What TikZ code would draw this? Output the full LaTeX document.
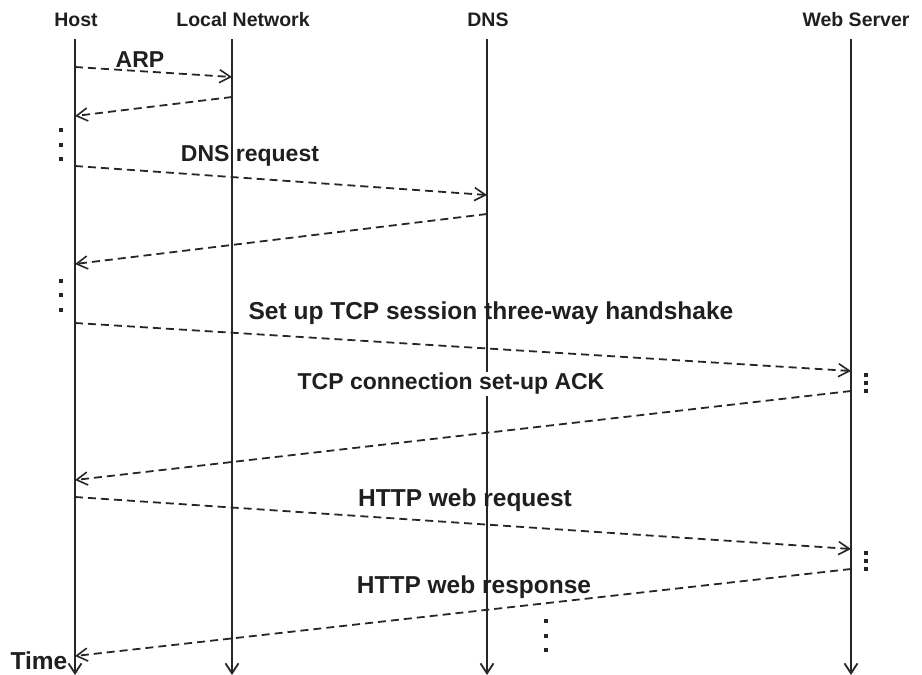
\documentclass[tikz,border=0pt]{standalone}
\usepackage{fontspec}
\setmainfont{Liberation Sans}
\usetikzlibrary{arrows.meta}
\begin{document}
\begin{tikzpicture}[x=1pt,y=-1pt,
  lifeline/.style={line width=2.2pt,draw=black!85,-{Straight Barb[length=10pt,width=13pt,line width=1.8pt]}},
  msg/.style={line width=1.8pt,draw=black!85,dash pattern=on 8pt off 5pt,-{Straight Barb[length=11pt,width=13pt,line width=1.6pt]}},
  head/.style={font=\bfseries\fontsize{19.5}{22}\selectfont,text=black!88},
  lbl/.style={font=\bfseries\fontsize{23}{26}\selectfont,text=black!88,inner sep=0pt},
  wide/.style={font=\bfseries\fontsize{24.5}{27}\selectfont},
  dotmark/.style={fill=black!85,minimum size=4.5pt,inner sep=0pt,shape=rectangle}]
\useasboundingbox (0,0) rectangle (922,675);

% participants
\node[head] (host) at (76,20) {Host};
\node[head] (lan) at (243,20) {Local Network};
\node[head] (dns) at (488,20) {DNS};
\node[head] (web) at (856,20) {Web Server};

% lifeline ends
\coordinate (h0) at (75,39);   \coordinate (h1) at (75,675);
\coordinate (l0) at (232,39);  \coordinate (l1) at (232,675);
\coordinate (d0) at (487,39);  \coordinate (d1) at (487,675);
\coordinate (w0) at (851,39);  \coordinate (w1) at (851,675);
\draw[lifeline] (h0) -- (h1);
\draw[lifeline] (l0) -- (l1);
\draw[lifeline] (d0) -- (d1);
\draw[lifeline] (w0) -- (w1);

% message end points
\coordinate (a1) at (75,67);   \coordinate (a2) at (232,77);
\coordinate (b1) at (232,97);  \coordinate (b2) at (75,116);
\coordinate (c1) at (75,166);  \coordinate (c2) at (487,195);
\coordinate (e1) at (487,214); \coordinate (e2) at (75,264);
\coordinate (f1) at (75,323);  \coordinate (f2) at (851,371);
\coordinate (g1) at (851,391); \coordinate (g2) at (75,480);
\coordinate (k1) at (75,497);  \coordinate (k2) at (851,549);
\coordinate (m1) at (851,569); \coordinate (m2) at (75,656);

\draw[msg] (a1) -- (a2);
\draw[msg] (b1) -- (b2);
\draw[msg] (c1) -- (c2);
\draw[msg] (e1) -- (e2);
\draw[msg] (f1) -- (f2);
\draw[msg] (g1) -- (g2);
\draw[msg] (k1) -- (k2);
\draw[msg] (m1) -- (m2);

% labels
\node[lbl] (larp) at (140,60) {ARP};
\node[lbl] (ldns) at (250,156) {DNS request};
\node[lbl,wide] (ltcp) at (491,313) {Set up TCP session three-way handshake};
\node[lbl,fill=white,inner sep=1pt] (lack) at (451,384) {TCP connection set-up ACK};
\node[lbl,wide] (lreq) at (465,500) {HTTP web request};
\node[lbl,wide] (lres) at (474,587) {HTTP web response};
\node[lbl,font=\bfseries\fontsize{24.5}{27}\selectfont] (ltime) at (39,661) {Time};

% ellipsis marks
\foreach \n/\x/\y in {p1/61/130,p2/61/145,p3/61/159,
                      q1/61/281,q2/61/295,q3/61/310,
                      r1/866/375,r2/866/383,r3/866/391,
                      s1/866/553,s2/866/561,s3/866/569,
                      t1/546/621,t2/546/636,t3/546/650}
  \node[dotmark] (\n) at (\x,\y) {};
\end{tikzpicture}
\end{document}
